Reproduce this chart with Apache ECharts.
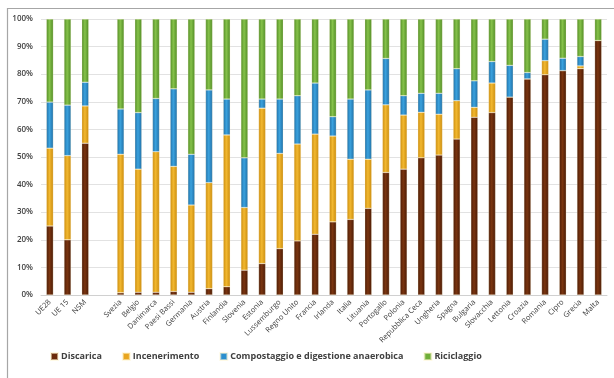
<!DOCTYPE html>
<html>
<head>
<meta charset="utf-8">
<script src="https://cdn.jsdelivr.net/npm/echarts@6/dist/echarts.min.js"></script>
<style>
  html, body { margin: 0; padding: 0; background: #fff; }
  #chart { width: 614px; height: 378px; }
</style>
</head>
<body>
<div id="chart"></div>
<script>
// Paesi / aggregati (uno spazio vuoto separa gli aggregati dai singoli Stati)
const categories = ['UE28', 'UE 15', 'NSM', '',
  'Svezia', 'Belgio', 'Danimarca', 'Paesi Bassi', 'Germania', 'Austria', 'Finlandia',
  'Slovenia', 'Estonia', 'Lussemburgo', 'Regno Unito', 'Francia', 'Irlanda', 'Italia',
  'Lituania', 'Portogallo', 'Polonia', 'Repubblica Ceca', 'Ungheria', 'Spagna',
  'Bulgaria', 'Slovacchia', 'Lettonia', 'Croazia', 'Romania', 'Cipro', 'Grecia', 'Malta'];

// Quote percentuali per modalità di gestione dei rifiuti urbani
const discarica = [25, 20, 55, '-',
  0.8, 1, 1, 1.3, 1, 2.3, 3,
  9, 11.4, 16.8, 19.6, 22, 26.5, 27.4,
  31.4, 44.4, 45.6, 49.7, 50.7, 56.5,
  64.4, 66.1, 71.7, 78.3, 79.8, 81.3, 82, 92.2];
const incenerimento = [28.2, 30.5, 13.5, '-',
  50.2, 44.6, 50.9, 45.3, 31.6, 38.4, 55,
  22.7, 56.3, 34.5, 35.1, 36.3, 31.1, 21.8,
  17.8, 24.5, 19.6, 16.5, 14.8, 13.9,
  3.6, 10.7, 0, 0, 5.1, 0, 1, 0];
const compostaggio = [16.7, 18.3, 8.6, '-',
  16.4, 20.5, 19.3, 28.1, 18.4, 33.6, 13,
  18, 3.3, 19.7, 17.5, 18.5, 7, 21.8,
  25.1, 16.8, 7, 6.9, 7.6, 11.6,
  9.6, 7.8, 11.5, 2.3, 7.8, 4.5, 3.4, 0];
const riciclaggio = [30.1, 31.2, 22.9, '-',
  32.6, 33.9, 28.8, 25.3, 49, 25.7, 29,
  50.3, 29, 29, 27.8, 23.2, 35.4, 29,
  25.7, 14.3, 27.8, 26.9, 26.9, 18,
  22.4, 15.4, 16.8, 19.4, 7.3, 14.2, 13.6, 7.8];

const yTicks = [0, 10, 20, 30, 40, 50, 60, 70, 80, 90, 100];

// Barre con leggera ombreggiatura laterale (effetto cilindrico)
function shade(edge, mid) {
  return new echarts.graphic.LinearGradient(0, 0, 1, 0, [
    { offset: 0, color: edge },
    { offset: 0.45, color: mid },
    { offset: 1, color: edge }
  ]);
}

const seriesDefs = [
  { name: 'Discarica', data: discarica, edge: '#4a1a05', mid: '#7a3510', legend: '#6b2a0c' },
  { name: 'Incenerimento', data: incenerimento, edge: '#c98a0c', mid: '#f2b830', legend: '#e8a51e' },
  { name: 'Compostaggio e digestione anaerobica', data: compostaggio, edge: '#1f6ea6', mid: '#3aa2de', legend: '#2b8fcf' },
  { name: 'Riciclaggio', data: riciclaggio, edge: '#4f8a24', mid: '#86c24a', legend: '#6fae38' }
];

const chart = echarts.init(document.getElementById('chart'), null, { renderer: 'canvas' });

chart.setOption({
  animation: false,
  backgroundColor: '#ffffff',
  graphic: [{
    type: 'rect',
    shape: { x: 7.5, y: 8.5, width: 620, height: 400 },
    style: { fill: 'none', stroke: '#a6a6a6', lineWidth: 1.2 },
    silent: true
  }],
  grid: { left: 41, right: 7, top: 19, bottom: 83 },
  legend: {
    bottom: 12,
    left: 45,
    itemWidth: 7,
    itemHeight: 7,
    itemGap: 20,
    icon: 'rect',
    textStyle: { fontFamily: 'Open Sans', fontSize: 9, fontWeight: 700, color: '#404040', padding: [0, 0, 0, -2] },
    data: seriesDefs.map(s => ({ name: s.name, itemStyle: { color: s.legend } }))
  },
  xAxis: {
    type: 'category',
    data: categories,
    axisTick: { show: false },
    axisLine: { lineStyle: { color: '#d0d0d0' } },
    axisLabel: {
      interval: 0,
      rotate: 45,
      fontFamily: 'Open Sans',
      fontSize: 7.5,
      color: '#404040',
      margin: 6
    }
  },
  yAxis: {
    type: 'value',
    min: yTicks[0],
    max: yTicks[yTicks.length - 1],
    interval: 10,
    axisLine: { show: false },
    axisTick: { show: false },
    splitLine: { lineStyle: { color: '#e2e2e2', width: 1 } },
    axisLabel: {
      formatter: '{value}%',
      fontFamily: 'Open Sans',
      fontSize: 8,
      fontWeight: 600,
      color: '#404040',
      margin: 8
    }
  },
  series: seriesDefs.map(s => ({
    name: s.name,
    type: 'bar',
    stack: 'tot',
    data: s.data,
    barWidth: 7,
    itemStyle: {
      color: shade(s.edge, s.mid),
      borderColor: 'rgba(255,245,210,0.55)',
      borderWidth: 0.5
    }
  }))
});
</script>
</body>
</html>
